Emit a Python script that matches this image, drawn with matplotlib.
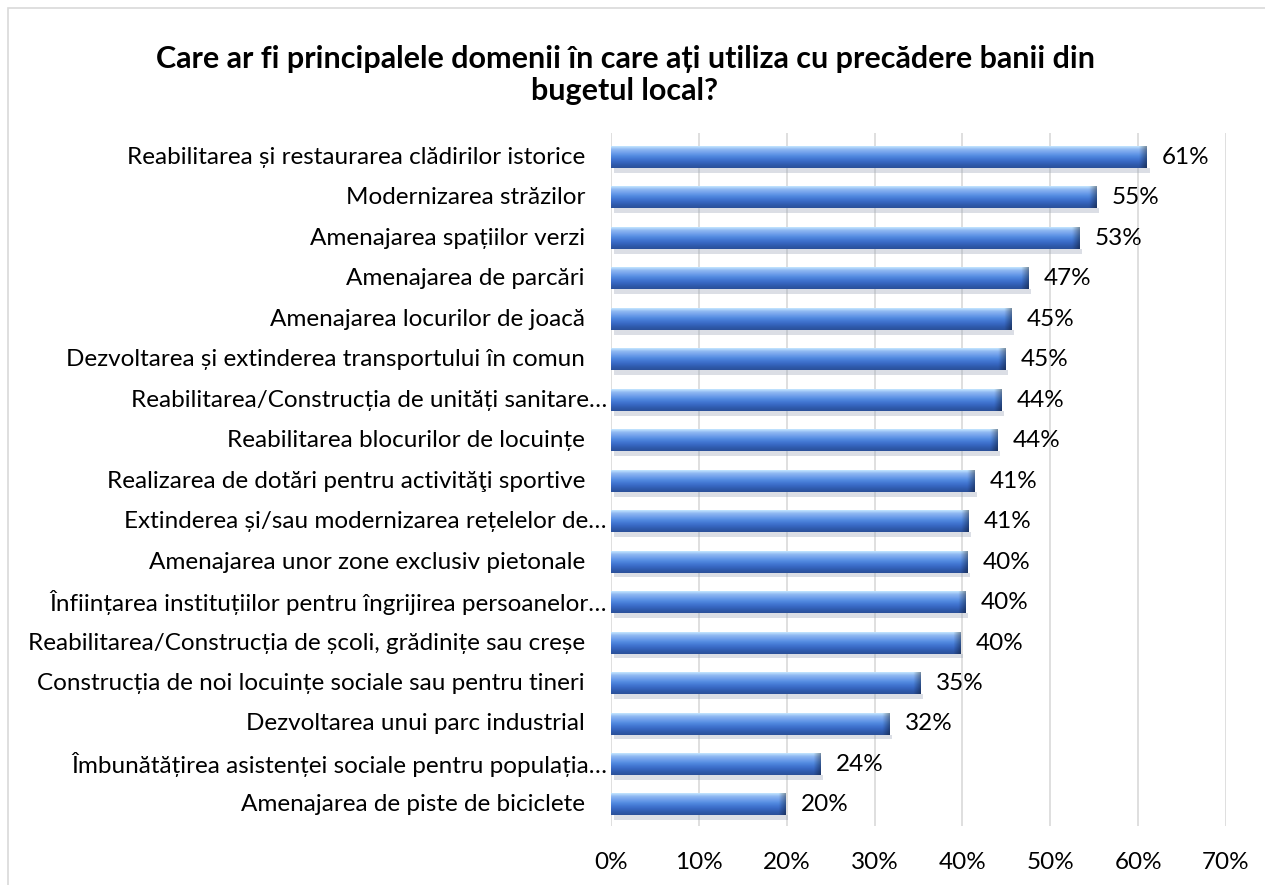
import numpy as np
import matplotlib.pyplot as plt
from matplotlib.patches import Rectangle
from matplotlib.colors import to_rgb
import matplotlib.transforms as mtransforms

plt.rcParams['font.family'] = ['Lato', 'DejaVu Sans']

title = "Care ar fi principalele domenii în care ați utiliza cu precădere banii din\nbugetul local?"

categories = [
    "Reabilitarea și restaurarea clădirilor istorice",
    "Modernizarea străzilor",
    "Amenajarea spațiilor verzi",
    "Amenajarea de parcări",
    "Amenajarea locurilor de joacă",
    "Dezvoltarea și extinderea transportului în comun",
    "Reabilitarea/Construcția de unități sanitare…",
    "Reabilitarea blocurilor de locuințe",
    "Realizarea de dotări pentru activităţi sportive",
    "Extinderea și/sau modernizarea rețelelor de…",
    "Amenajarea unor zone exclusiv pietonale",
    "Înființarea instituțiilor pentru îngrijirea persoanelor…",
    "Reabilitarea/Construcția de școli, grădinițe sau creșe",
    "Construcția de noi locuințe sociale sau pentru tineri",
    "Dezvoltarea unui parc industrial",
    "Îmbunătățirea asistenței sociale pentru populația…",
    "Amenajarea de piste de biciclete",
]
values = [61.0, 55.3, 53.3, 47.5, 45.6, 44.9, 44.4, 44.0, 41.4, 40.7,
          40.6, 40.3, 39.8, 35.2, 31.7, 23.8, 19.9]
labels = ["61%", "55%", "53%", "47%", "45%", "45%", "44%", "44%", "41%", "41%",
          "40%", "40%", "40%", "35%", "32%", "24%", "20%"]
xticks = [0, 10, 20, 30, 40, 50, 60, 70]

W, H = 1265, 885
fig = plt.figure(figsize=(W / 100, H / 100), dpi=100)
ax = fig.add_axes([611 / W, 59 / H, (1226 - 611) / W, (752 - 59) / H])

# light frame like the exported chart area (only left/top visible)
fig.patches.append(Rectangle((8 / W, -0.1), 1.2, (H - 8) / H + 0.1,
                             transform=fig.transFigure, fill=False,
                             edgecolor="#d9d9d9", linewidth=1.2, zorder=0))

y = np.arange(len(categories))
bar_h = 0.52
bars = ax.barh(y, values, height=bar_h, color="#3f73cf", zorder=2)

# vertical gradient for the "3D" look, top -> bottom
stops = ["#c4e6ff", "#8fb8f2", "#74a2ec", "#568ee2", "#4479d4",
         "#3868c3", "#2f5aac", "#2b5099"]
pos = np.linspace(0, 1, len(stops))
ny, nx = 60, 300
t = np.linspace(0, 1, ny)
col = np.stack([np.interp(t, pos, [to_rgb(c)[k] for c in stops]) for k in range(3)], axis=1)

for b, v in zip(bars, values):
    x0, yc = b.get_x(), b.get_y() + b.get_height() / 2
    img = np.repeat(col[:, None, :], nx, axis=1).copy()
    # darker cap at the bar end
    xs = np.linspace(0, v, nx)
    cap = np.clip((xs - (v - 0.8)) / 0.8, 0, 1)[None, :, None]
    img = img * (1 - 0.35 * cap)
    ax.imshow(img, extent=(x0, v, yc + bar_h / 2, yc - bar_h / 2),
              aspect="auto", origin="upper", interpolation="bilinear", zorder=3)
    # soft shadow under the bar
    ax.add_patch(Rectangle((x0 + 0.3, yc + bar_h / 2), v, 0.12,
                           facecolor="#9aa3b5", alpha=0.35, edgecolor="none", zorder=1))
    b.set_visible(False)

ax.set_xlim(0, 70)
ax.set_ylim(len(categories) - 0.48, -0.6)
ax.set_xticks(xticks)
ax.set_xticklabels([f"{v}%" for v in xticks], fontsize=17.5)
ax.tick_params(axis="x", length=0, pad=19)
ax.set_yticks([])
ax.grid(axis="x", color="#d9d9d9", linewidth=1.2, zorder=0)
ax.set_axisbelow(True)
for s in ax.spines.values():
    s.set_visible(False)

# category labels: full ones keep a trailing gap, truncated ones sit closer
for i, c in enumerate(categories):
    off = -4 if c.endswith("…") else -26
    tr = ax.get_yaxis_transform() + mtransforms.ScaledTranslation(off / 100, 0, fig.dpi_scale_trans)
    ax.text(0, i, c, transform=tr, ha="right", va="center", fontsize=17.5, color="#000000")

for i, (v, lab) in enumerate(zip(values, labels)):
    ax.annotate(lab, (v, i), xytext=(11, 0), textcoords="offset points",
                ha="left", va="center", fontsize=17.5, color="#000000")

fig.text(625 / W, 1 - 75 / H, title, ha="center", va="center", fontsize=22,
         fontweight="bold", linespacing=1.18)

fig.savefig("out.png", dpi=100)
